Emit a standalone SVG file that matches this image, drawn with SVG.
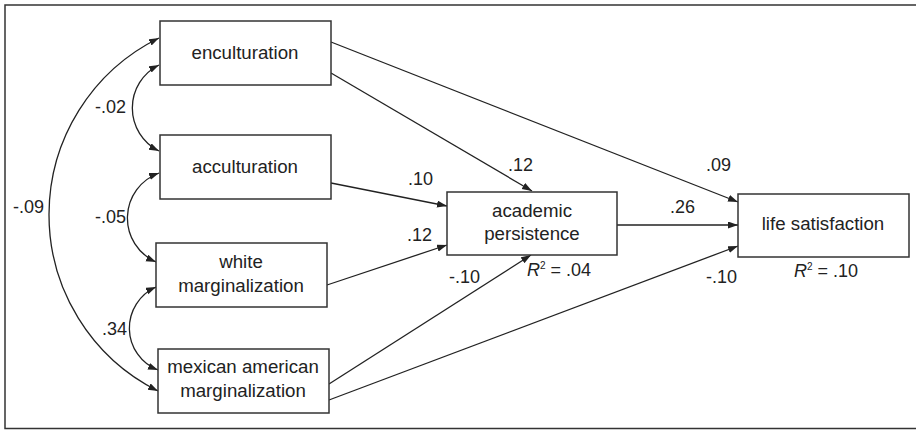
<svg xmlns="http://www.w3.org/2000/svg" width="916" height="430" viewBox="0 0 916 430">
<style>
.box{fill:#fff;stroke:#333;stroke-width:1.5}
.nt{font-family:"Liberation Sans",Arial,sans-serif;font-size:18.7px;fill:#222;text-anchor:middle}
.lb{font-family:"Liberation Sans",Arial,sans-serif;font-size:18px;fill:#222}
.ln{fill:none;stroke:#222;stroke-width:1.3;marker-end:url(#ah)}
.cv{fill:none;stroke:#222;stroke-width:1.3;marker-end:url(#ah);marker-start:url(#ah)}
</style>
<defs>
<marker id="ah" markerUnits="userSpaceOnUse" markerWidth="11" markerHeight="8" refX="10" refY="3.5" orient="auto-start-reverse" viewBox="0 0 11 8">
<path d="M0,0 L10,3.5 L0,7 z" fill="#222"/>
</marker>
</defs>
<rect x="5" y="5" width="915" height="423.5" fill="#fff" stroke="#333" stroke-width="1.5"/>
<g id="connectors">
<path class="ln" d="M331,42 L738,202"/>
<path class="ln" d="M331,73 L532,191"/>
<path class="ln" d="M331,183 L447,206"/>
<path class="ln" d="M327,285 L447,245"/>
<path class="ln" d="M329,384 L531,255"/>
<path class="ln" d="M329,400 L738,246"/>
<path class="ln" d="M617,225 L738,225"/>
<path class="cv" d="M159,65 A48,48 0 0 0 159,151"/>
<path class="cv" d="M159,173 A48,48 0 0 0 156,262"/>
<path class="cv" d="M156,287 A45,45 0 0 0 158,370"/>
<path class="cv" d="M159,38 A197,197 0 0 0 158,391"/>
</g>
<g id="labels">
<text class="lb" x="95" y="113">-.02</text>
<text class="lb" x="13" y="213">-.09</text>
<text class="lb" x="95" y="223">-.05</text>
<text class="lb" x="102" y="335">.34</text>
<text class="lb" x="508" y="171">.12</text>
<text class="lb" x="408" y="185">.10</text>
<text class="lb" x="407" y="241">.12</text>
<text class="lb" x="449" y="283">-.10</text>
<text class="lb" x="706" y="171">.09</text>
<text class="lb" x="670" y="213">.26</text>
<text class="lb" x="706" y="283">-.10</text>
</g>
<g id="enculturation">
<rect class="box" x="160" y="21" width="171" height="64"/>
<text class="nt" x="245" y="59">enculturation</text>
</g>
<g id="acculturation">
<rect class="box" x="160" y="135" width="171" height="64"/>
<text class="nt" x="245" y="173">acculturation</text>
</g>
<g id="white-marginalization">
<rect class="box" x="156" y="243" width="171" height="64"/>
<text class="nt" x="241" y="268">white</text>
<text class="nt" x="241" y="292">marginalization</text>
</g>
<g id="mexican-american-marginalization">
<rect class="box" x="158" y="349" width="171" height="64"/>
<text class="nt" x="243" y="373">mexican american</text>
<text class="nt" x="243" y="397">marginalization</text>
</g>
<g id="academic-persistence">
<rect class="box" x="447" y="192" width="170" height="63"/>
<text class="nt" x="532" y="217">academic</text>
<text class="nt" x="532" y="240">persistence</text>
<text class="lb" x="527" y="276"><tspan font-style="italic">R</tspan><tspan font-size="10" dy="-7">2</tspan><tspan dy="7"> = .04</tspan></text>
</g>
<g id="life-satisfaction">
<rect class="box" x="738" y="194" width="171" height="63"/>
<text class="nt" x="823" y="230">life satisfaction</text>
<text class="lb" x="794" y="277"><tspan font-style="italic">R</tspan><tspan font-size="10" dy="-7">2</tspan><tspan dy="7"> = .10</tspan></text>
</g>
</svg>
